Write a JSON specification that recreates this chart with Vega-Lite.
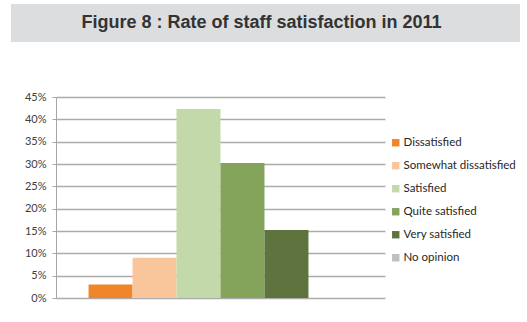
{
  "$schema": "https://vega.github.io/schema/vega-lite/v6.json",
  "padding": {"left": 11, "top": 4, "right": 6, "bottom": 2},
  "background": "white",
  "spacing": 49,
  "config": {
    "font": "Lato",
    "view": {"stroke": null}
  },
  "vconcat": [
    {
      "width": 509,
      "height": 38,
      "view": {"fill": "#dcdddf", "stroke": null},
      "data": {"values": [{"title": "Figure 8 : Rate of staff satisfaction in 2011"}]},
      "mark": {"type": "text", "font": "Liberation Sans", "fontWeight": "bold", "fontSize": 18, "color": "#333333", "baseline": "middle", "align": "center", "dx": -4},
      "encoding": {"text": {"field": "title", "type": "nominal"}}
    },
    {
      "spacing": 0,
      "hconcat": [
        {
          "width": 1,
          "height": 201,
          "data": {"values": [{"blank": ""}]},
          "mark": {"type": "text"},
          "encoding": {"text": {"field": "blank", "type": "nominal"}}
        },
        {
          "width": 329,
          "height": 201,
          "data": {"values": [
            {"category": "Dissatisfied", "rate": 0.03},
            {"category": "Somewhat dissatisfied", "rate": 0.09},
            {"category": "Satisfied", "rate": 0.423},
            {"category": "Quite satisfied", "rate": 0.302},
            {"category": "Very satisfied", "rate": 0.152},
            {"category": "No opinion", "rate": 0}
          ]},
          "mark": {"type": "bar"},
          "encoding": {
            "x": {
              "field": "category", "type": "nominal",
              "sort": ["Dissatisfied", "Somewhat dissatisfied", "Satisfied", "Quite satisfied", "Very satisfied", "No opinion"],
              "scale": {"paddingInner": 0, "paddingOuter": 0.74},
              "axis": null
            },
            "y": {
              "field": "rate", "type": "quantitative",
              "scale": {"domain": [0, 0.45]},
              "axis": {
                "title": null,
                "values": [0, 0.05, 0.1, 0.15, 0.2, 0.25, 0.3, 0.35, 0.4, 0.45],
                "format": ".0%",
                "labelFontSize": 11,
                "labelColor": "#404040",
                "labelFont": "Lato",
                "domainColor": "#a6a6a6",
                "tickColor": "#a6a6a6",
                "tickSize": 4,
                "gridColor": "#ababab",
                "gridWidth": 1.3,
                "labelPadding": 6,
                "minExtent": 44
              }
            },
            "color": {
              "field": "category", "type": "nominal",
              "sort": ["Dissatisfied", "Somewhat dissatisfied", "Satisfied", "Quite satisfied", "Very satisfied", "No opinion"],
              "scale": {
                "domain": ["Dissatisfied", "Somewhat dissatisfied", "Satisfied", "Quite satisfied", "Very satisfied", "No opinion"],
                "range": ["#f0852a", "#f9c69b", "#c3d9a9", "#84a35b", "#5f733f", "#bfbfbf"]
              },
              "legend": {
                "title": null,
                "orient": "none",
                "legendX": 379,
                "legendY": 133,
                "symbolType": "square",
                "symbolSize": 55,
                "symbolStrokeWidth": 0,
                "labelFontSize": 11.5,
                "labelColor": "#262626",
                "labelFont": "Lato",
                "rowPadding": 10,
                "labelOffset": 2
              }
            }
          }
        }
      ]
    }
  ]
}
